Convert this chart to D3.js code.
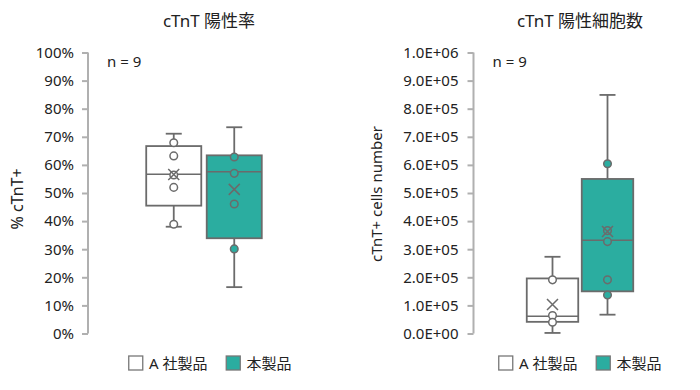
<!DOCTYPE html>
<html><head><meta charset="utf-8">
<script src="https://cdn.jsdelivr.net/npm/d3@7"></script>
<style>
body{margin:0;background:#fff;}
svg text{font-family:"Noto Sans","Noto Sans CJK JP",sans-serif;fill:#222;}
</style></head>
<body><svg id="c" width="700" height="390"></svg>
<script>
// ---- data ----
const categories = ["A 社製品", "本製品"];
const seriesColors = ["#ffffff", "#2bada0"];

// left chart: cTnT 陽性率 (%)
const rateTitle = "cTnT 陽性率";
const rateAxisTitle = "% cTnT+";
const rateWhiskerLow  = [38.0, 16.5];
const rateQ1          = [45.5, 33.9];
const rateMedian      = [56.7, 57.6];
const rateQ3          = [66.7, 63.4];
const rateWhiskerHigh = [71.1, 73.4];
const rateMean        = [56.6, 51.3];
const ratePoints      = [[67.9, 63.2, 56.4, 52.0, 38.9], [62.8, 57.0, 46.1, 30.1]];
const rateTicks = [0,10,20,30,40,50,60,70,80,90,100];

// right chart: cTnT 陽性細胞数
const cellTitle = "cTnT 陽性細胞数";
const cellAxisTitle = "cTnT+ cells number";
const cellWhiskerLow  = [2000, 67000];
const cellQ1          = [41500, 150000];
const cellMedian      = [61000, 332000];
const cellQ3          = [196000, 550000];
const cellWhiskerHigh = [273000, 849000];
const cellMean        = [103000, 363000];
const cellPoints      = [[191000, 64000, 40000], [604000, 366000, 327000, 191000, 137000]];
const cellTicks = [0,1e5,2e5,3e5,4e5,5e5,6e5,7e5,8e5,9e5,1e6];
const nLabel = "n = 9";

const svg = d3.select("#c");
const stroke = "#6b6b6b";
const axisColor = "#b0b0b0";

function drawPanel(o){
  const g = svg.append("g");
  const y = d3.scaleLinear().domain([o.ticks[0], o.ticks[o.ticks.length-1]]).range([333.5, 52.5]);
  const x = d3.scaleBand().domain(categories).range(o.xRange).paddingInner(o.pin).paddingOuter(o.pout);
  // axis
  const ax = g.append("g").attr("transform", `translate(${o.axisX},0)`)
    .call(d3.axisLeft(y).tickValues(o.ticks).tickSize(6).tickPadding(o.tickPad).tickFormat(o.fmt));
  ax.select(".domain").attr("stroke", axisColor).attr("stroke-width", 2).attr("d", `M0,${y(o.ticks[0])}V${y(o.ticks[o.ticks.length-1])}`);
  ax.selectAll(".tick line").attr("stroke", axisColor).attr("stroke-width", 2);
  ax.selectAll(".tick text").style("font-size", "15px").attr("fill", "#222");
  // titles
  g.append("text").attr("x", o.titleX).attr("y", 27).attr("text-anchor", "middle").style("font-size", "17px").text(o.title);
  g.append("text").attr("transform", `translate(${o.yTitleX},${o.yTitleY}) rotate(-90)`).attr("text-anchor", "middle")
    .attr("dominant-baseline", "central").style("font-size", o.yTitleSize).text(o.axisTitle);
  g.append("text").attr("x", o.axisX + 19).attr("y", 67).style("font-size", "15px").text(nLabel);
  // boxes
  categories.forEach((c, i) => {
    const x0 = x(c), bw = x.bandwidth(), cx = x0 + bw/2, cap = 8;
    const b = g.append("g");
    // whiskers
    b.append("line").attr("x1", cx).attr("x2", cx).attr("y1", y(o.hi[i])).attr("y2", y(o.q3[i])).attr("stroke", stroke).attr("stroke-width", 1.8);
    b.append("line").attr("x1", cx).attr("x2", cx).attr("y1", y(o.lo[i])).attr("y2", y(o.q1[i])).attr("stroke", stroke).attr("stroke-width", 1.8);
    b.append("line").attr("x1", cx-cap).attr("x2", cx+cap).attr("y1", y(o.hi[i])).attr("y2", y(o.hi[i])).attr("stroke", stroke).attr("stroke-width", 1.8);
    b.append("line").attr("x1", cx-cap).attr("x2", cx+cap).attr("y1", y(o.lo[i])).attr("y2", y(o.lo[i])).attr("stroke", stroke).attr("stroke-width", 1.8);
    // box
    b.append("rect").attr("x", x0).attr("width", bw).attr("y", y(o.q3[i])).attr("height", y(o.q1[i]) - y(o.q3[i]))
      .attr("fill", seriesColors[i]).attr("stroke", stroke).attr("stroke-width", 1.8);
    b.append("line").attr("x1", x0).attr("x2", x0+bw).attr("y1", y(o.med[i])).attr("y2", y(o.med[i])).attr("stroke", stroke).attr("stroke-width", 1.5);
    // points
    b.selectAll("circle").data(o.pts[i]).join("circle").attr("cx", cx).attr("cy", d => y(d)).attr("r", 3.8)
      .attr("fill", seriesColors[i]).attr("stroke", stroke).attr("stroke-width", 1.5);
    // mean
    const my = y(o.mean[i]), s = 5.5;
    b.append("path").attr("d", `M${cx-s},${my-s}L${cx+s},${my+s}M${cx-s},${my+s}L${cx+s},${my-s}`)
      .attr("stroke", stroke).attr("stroke-width", 1.5).attr("fill", "none");
  });
  // legend
  const lg = g.append("g");
  categories.forEach((c, i) => {
    const lx = o.legX[i];
    lg.append("rect").attr("x", lx+0.75).attr("y", 356).attr("width", 14).attr("height", 14)
      .attr("fill", seriesColors[i]).attr("stroke", "#777").attr("stroke-width", 1.3);
    lg.append("text").attr("x", lx + 21).attr("y", 363).attr("dominant-baseline", "central").style("font-size", "15px").text(c);
  });
}

drawPanel({
  title: rateTitle, axisTitle: rateAxisTitle, ticks: rateTicks, fmt: d => d + "%",
  lo: rateWhiskerLow, q1: rateQ1, med: rateMedian, q3: rateQ3, hi: rateWhiskerHigh, mean: rateMean, pts: ratePoints,
  axisX: 88, tickPad: 8, xRange: [143.5, 264.5], pin: 0.09, pout: 0.045,
  titleX: 209, yTitleX: 17, yTitleY: 199, yTitleSize: "16px", legX: [128, 225.5]
});
drawPanel({
  title: cellTitle, axisTitle: cellAxisTitle, ticks: cellTicks,
  fmt: d => { if (d === 0) return "0.0E+00"; const e = Math.floor(Math.log10(d)); return (d/Math.pow(10,e)).toFixed(1) + "E+" + String(e).padStart(2,"0"); },
  lo: cellWhiskerLow, q1: cellQ1, med: cellMedian, q3: cellQ3, hi: cellWhiskerHigh, mean: cellMean, pts: cellPoints,
  axisX: 473.5, tickPad: 9, xRange: [525, 635], pin: 0.064, pout: 0.032,
  titleX: 580, yTitleX: 376, yTitleY: 194, yTitleSize: "15px", legX: [498, 595.5]
});
</script></body></html>
